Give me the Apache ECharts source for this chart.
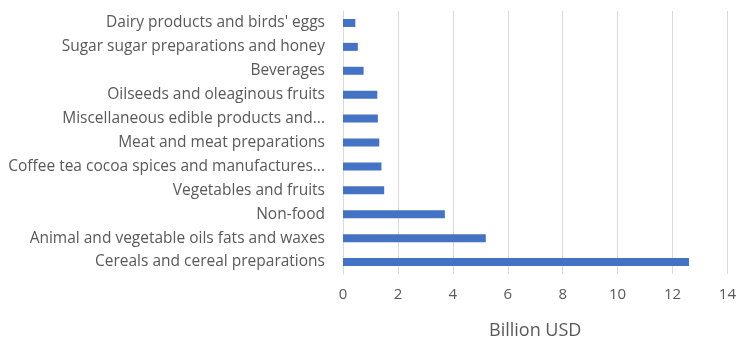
<!DOCTYPE html>
<html>
<head>
<meta charset="utf-8">
<script src="https://cdn.jsdelivr.net/npm/echarts@6/dist/echarts.min.js"></script>
<style>
  html, body { margin: 0; padding: 0; background: #fff; }
  #chart { width: 739px; height: 345px; }
</style>
</head>
<body>
<div id="chart"></div>
<script>
// categories top to bottom
const categories = [
  "Dairy products and birds' eggs",
  'Sugar sugar preparations and honey',
  'Beverages',
  'Oilseeds and oleaginous fruits',
  'Miscellaneous edible products and...',
  'Meat and meat preparations',
  'Coffee tea cocoa spices and manufactures...',
  'Vegetables and fruits',
  'Non-food',
  'Animal and vegetable oils fats and waxes',
  'Cereals and cereal preparations'
]
const values = [0.45, 0.54, 0.75, 1.25, 1.27, 1.32, 1.4, 1.5, 3.71, 5.2, 12.6]
const axisName = 'Billion USD'

const myChart = echarts.init(document.getElementById('chart'))
myChart.setOption({
  animation: false,
  textStyle: { fontFamily: 'Open Sans' },
  grid: { left: 343, right: 10, top: 11, bottom: 70 },
  xAxis: {
    type: 'value',
    min: 0,
    max: 14,
    interval: 2,
    name: axisName,
    nameLocation: 'middle',
    nameGap: 48,
    nameTextStyle: { color: '#595959', fontSize: 18 },
    axisLine: { show: false },
    axisTick: { show: false },
    axisLabel: { color: '#595959', fontSize: 15, margin: 13 },
    splitLine: { lineStyle: { color: '#d9d9d9' } }
  },
  yAxis: {
    type: 'category',
    inverse: true,
    data: categories,
    axisLine: { lineStyle: { color: '#d9d9d9' } },
    axisTick: { show: false },
    axisLabel: { color: '#595959', fontSize: 15.5, margin: 18 }
  },
  series: [
    {
      type: 'bar',
      data: values,
      barWidth: 8,
      itemStyle: { color: '#4472C4' }
    }
  ]
})
</script>
</body>
</html>
